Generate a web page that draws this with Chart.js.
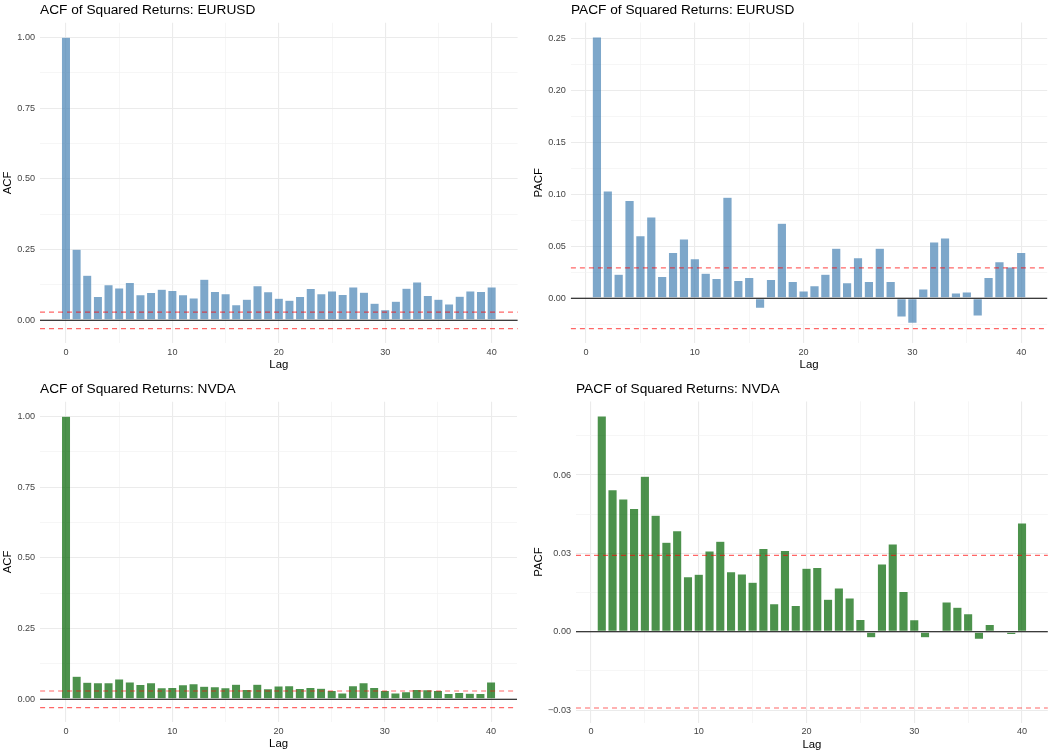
<!DOCTYPE html>
<html lang="en">
<head>
<meta charset="UTF-8">
<title>ACF / PACF of Squared Returns</title>
<script src="https://cdn.jsdelivr.net/npm/chart.js"></script>
<style>
  body { margin: 0; background: #fff; width: 1056px; height: 753px; overflow: hidden; position: relative; }
  .panel { position: absolute; }
</style>
</head>
<body>
<div class="panel" style="left:0;top:0;width:528px;height:376px"><canvas id="c1"></canvas></div>
<div class="panel" style="left:528px;top:0;width:528px;height:376px"><canvas id="c2"></canvas></div>
<div class="panel" style="left:0;top:376px;width:528px;height:377px"><canvas id="c3"></canvas></div>
<div class="panel" style="left:528px;top:376px;width:528px;height:377px"><canvas id="c4"></canvas></div>

<script>
// lags
const acfLags = [0,1,2,3,4,5,6,7,8,9,10,11,12,13,14,15,16,17,18,19,20,
                 21,22,23,24,25,26,27,28,29,30,31,32,33,34,35,36,37,38,39,40];
const pacfLags = [1,2,3,4,5,6,7,8,9,10,11,12,13,14,15,16,17,18,19,20,
                  21,22,23,24,25,26,27,28,29,30,31,32,33,34,35,36,37,38,39,40];

// EURUSD
const eurAcf = [1.000,0.251,0.159,0.084,0.126,0.114,0.134,0.090,0.098,0.110,0.105,
                0.090,0.079,0.145,0.102,0.094,0.055,0.074,0.122,0.101,0.078,
                0.071,0.084,0.112,0.094,0.104,0.091,0.118,0.099,0.060,0.037,
                0.067,0.113,0.135,0.088,0.074,0.058,0.085,0.104,0.102,0.118];
const eurPacf = [0.251,0.103,0.023,0.094,0.060,0.078,0.021,0.044,0.057,0.038,
                 0.024,0.019,0.097,0.017,0.020,-0.0096,0.018,0.072,0.016,0.007,
                 0.012,0.023,0.048,0.015,0.039,0.016,0.048,0.016,-0.018,-0.024,
                 0.009,0.054,0.058,0.005,0.006,-0.017,0.020,0.035,0.030,0.044];
const ciEur = 0.0291;

// NVDA
const nvdaAcf = [1.000,0.081,0.060,0.058,0.058,0.072,0.061,0.052,0.058,0.041,0.042,
                 0.051,0.055,0.046,0.044,0.041,0.053,0.035,0.053,0.037,0.047,
                 0.048,0.038,0.042,0.039,0.031,0.022,0.048,0.058,0.042,0.031,
                 0.022,0.027,0.035,0.034,0.031,0.020,0.024,0.021,0.020,0.061];
const nvdaPacf = [0.0826,0.0544,0.0508,0.0472,0.0595,0.0446,0.0343,0.0387,0.0211,0.0220,
                  0.0309,0.0346,0.0230,0.0221,0.0189,0.0319,0.0107,0.0311,0.0100,0.0243,
                  0.0246,0.0124,0.0167,0.0129,0.0047,-0.0023,0.0259,0.0336,0.0154,0.0046,
                  -0.0023,0.0002,0.0114,0.0094,0.0069,-0.0029,0.0028,0.0006,-0.0011,0.0416];
const ciNvda = 0.0292;

const FONT = "'Liberation Sans', Arial, sans-serif";
const blue = 'rgba(70,130,180,0.7)';
const green = 'rgba(0,100,0,0.7)';
const TITLE_SIZE = 13.7, TITLE_LH = 1.2;

// zero line + confidence band lines, drawn over the bars
const refLines = {
  id: 'refLines',
  afterDatasetsDraw(chart, args, opts) {
    const {ctx, chartArea: a} = chart;
    const y = chart.scales.y;
    ctx.save();
    ctx.lineWidth = 1.1;
    ctx.strokeStyle = '#000';
    let py = y.getPixelForValue(0);
    ctx.beginPath(); ctx.moveTo(a.left, py); ctx.lineTo(a.right, py); ctx.stroke();
    ctx.strokeStyle = 'rgba(255,0,0,0.6)';
    ctx.lineWidth = 1.2;
    ctx.setLineDash([5, 4]);
    [opts.ci, -opts.ci].forEach(v => {
      py = y.getPixelForValue(v);
      ctx.beginPath(); ctx.moveTo(a.left, py); ctx.lineTo(a.right, py); ctx.stroke();
    });
    ctx.restore();
  }
};

function isMajor(v, step) {
  return Math.abs(v / step - Math.round(v / step)) < 1e-6;
}

// ggplot style range: data + 5% each side
function expand(lo, hi) {
  const d = (hi - lo) * 0.05;
  return [lo - d, hi + d];
}

function makeChart(p) {
  const lo = Math.min(0, -p.ci, ...p.values);
  const hi = Math.max(p.ci, ...p.values);
  const [ymin, ymax] = expand(lo, hi);
  const [xmin, xmax] = expand(Math.min(...p.lags) - 0.4, Math.max(...p.lags) + 0.4);
  const titleLH = TITLE_SIZE * TITLE_LH;

  new Chart(document.getElementById(p.id), {
    type: 'bar',
    data: {
      datasets: [{
        data: p.lags.map((l, i) => ({x: l, y: p.values[i]})),
        backgroundColor: p.fill,
        borderColor: 'rgba(255,255,255,0.55)',
        borderWidth: 0.5,
        borderSkipped: false,
        categoryPercentage: 1,
        barPercentage: 0.85
      }]
    },
    options: {
      responsive: true,
      maintainAspectRatio: false,
      animation: false,
      layout: { padding: { left: 0, right: p.padR, top: 0, bottom: 0 } },
      plugins: {
        legend: { display: false },
        tooltip: { enabled: false },
        title: {
          display: true,
          text: p.title,
          align: 'start',
          fullSize: false,
          color: '#000',
          font: { family: FONT, size: TITLE_SIZE, weight: 'normal', lineHeight: TITLE_LH },
          padding: { top: p.titleTop, bottom: p.top - titleLH - p.titleTop }
        },
        refLines: { ci: p.ci }
      },
      scales: {
        x: {
          type: 'linear',
          min: xmin, max: xmax,
          offset: false,
          border: { display: false },
          grid: {
            offset: false,
            drawTicks: false,
            color: c => isMajor(c.tick.value, 10) ? '#ebebeb' : '#f2f2f2',
            lineWidth: c => isMajor(c.tick.value, 10) ? 1.1 : 0.7
          },
          ticks: {
            stepSize: 5,
            includeBounds: false,
            autoSkip: false,
            maxRotation: 0,
            padding: 3.5,
            color: '#444',
            font: { family: FONT, size: 9.1 },
            callback: v => isMajor(v, 10) ? String(Math.round(v)) : ''
          },
          title: {
            display: true, text: 'Lag', color: '#000',
            font: { family: FONT, size: 11.4 },
            padding: { top: 0, bottom: p.xTitlePad }
          },
          afterFit: s => { s.height = p.xH; }
        },
        y: {
          type: 'linear',
          min: ymin, max: ymax,
          border: { display: false },
          grid: {
            drawTicks: false,
            color: c => isMajor(c.tick.value, p.major) ? '#ebebeb' : '#f2f2f2',
            lineWidth: c => isMajor(c.tick.value, p.major) ? 1.1 : 0.7
          },
          ticks: {
            stepSize: p.major / 2,
            includeBounds: false,
            autoSkip: false,
            padding: 5,
            color: '#444',
            font: { family: FONT, size: 9.1 },
            callback: v => isMajor(v, p.major) ? v.toFixed(2).replace('-', '\u2212') : ''
          },
          title: {
            display: true, text: p.yTitle, color: '#000',
            font: { family: FONT, size: 11.4 },
            padding: { top: p.yTitlePad, bottom: 0 }
          },
          afterFit: s => { s.width = p.left; }
        }
      }
    },
    plugins: [refLines]
  });
}

const panels = [
  { id: 'c1', title: 'ACF of Squared Returns: EURUSD', yTitle: 'ACF',
    lags: acfLags, values: eurAcf, ci: ciEur, fill: blue, major: 0.25,
    left: 40, top: 22.8, padR: 10.4, xH: 32.9, titleTop: 2.3, yTitlePad: 1.2, xTitlePad: 4.2 },
  { id: 'c2', title: 'PACF of Squared Returns: EURUSD', yTitle: 'PACF',
    lags: pacfLags, values: eurPacf, ci: ciEur, fill: blue, major: 0.05,
    left: 42.9, top: 22.5, padR: 8.8, xH: 32.9, titleTop: 2.1, yTitlePad: 3.9, xTitlePad: 4.2 },
  { id: 'c3', title: 'ACF of Squared Returns: NVDA', yTitle: 'ACF',
    lags: acfLags, values: nvdaAcf, ci: ciNvda, fill: green, major: 0.25,
    left: 40.1, top: 25.8, padR: 11, xH: 30.9, titleTop: 4.8, yTitlePad: 1.2, xTitlePad: 2.1 },
  { id: 'c4', title: 'PACF of Squared Returns: NVDA', yTitle: 'PACF',
    lags: pacfLags, values: nvdaPacf, ci: ciNvda, fill: green, major: 0.03,
    left: 48, top: 25.4, padR: 8.2, xH: 30.4, titleTop: 4.8, yTitlePad: 3.9, xTitlePad: 1.6 }
];

panels.forEach(makeChart);
</script>
</body>
</html>
